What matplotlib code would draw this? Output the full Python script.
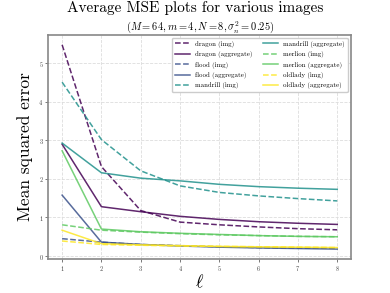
import numpy as np
import matplotlib
matplotlib.use("Agg")
import matplotlib.pyplot as plt

plt.rcParams['font.family'] = ['cmr10', 'DejaVu Serif']
plt.rcParams['mathtext.fontset'] = 'cm'
plt.rcParams['axes.formatter.use_mathtext'] = True

ells = [1, 2, 3, 4, 5, 6, 7, 8]
images = ["dragon", "flood", "mandrill", "merlion", "oldlady"]

mse_img = {
    "dragon":   [5.48, 2.32, 1.18, 0.88, 0.81, 0.755, 0.71, 0.68],
    "flood":    [0.45, 0.36, 0.30, 0.27, 0.24, 0.22, 0.21, 0.20],
    "mandrill": [4.51, 3.02, 2.21, 1.82, 1.65, 1.56, 1.49, 1.43],
    "merlion":  [0.81, 0.67, 0.62, 0.58, 0.55, 0.53, 0.51, 0.50],
    "oldlady":  [0.39, 0.30, 0.28, 0.26, 0.25, 0.24, 0.23, 0.22],
}
mse_agg = {
    "dragon":   [2.90, 1.28, 1.15, 1.03, 0.95, 0.89, 0.85, 0.82],
    "flood":    [1.58, 0.36, 0.30, 0.26, 0.23, 0.21, 0.195, 0.18],
    "mandrill": [2.93, 2.16, 2.02, 1.95, 1.86, 1.80, 1.76, 1.73],
    "merlion":  [2.73, 0.70, 0.63, 0.59, 0.56, 0.53, 0.51, 0.50],
    "oldlady":  [0.67, 0.32, 0.29, 0.27, 0.25, 0.24, 0.23, 0.22],
}

colors = plt.cm.viridis(np.linspace(0, 1, len(images)))

fig, ax = plt.subplots(figsize=(3.9, 2.93), dpi=100)
for name, c in zip(images, colors):
    ax.plot(ells, mse_img[name], '--', color=c, lw=1.1, alpha=0.85, label=f"{name} (img)")
    ax.plot(ells, mse_agg[name], '-', color=c, lw=1.1, alpha=0.85, label=f"{name} (aggregate)")

ax.grid(True, ls='--', color='#dddddd', lw=0.6)
for s in ax.spines.values():
    s.set_color('#888888')
    s.set_linewidth(1.2)
ax.tick_params(labelsize=4.5, length=2, width=0.5, pad=1.5, colors='#444444')
ax.set_xticks(ells)

ax.set_xlabel(r"$\ell$", fontsize=13, labelpad=0)
ax.set_ylabel("Mean squared error", fontsize=12.5, labelpad=4)
fig.suptitle("Average MSE plots for various images", fontsize=11, y=0.995)
ax.set_title(r"$(M=64, m=4, N=8, \sigma_n^2=0.25)$", fontsize=7.5, pad=2.5)

ax.legend(ncol=2, fontsize=4.9, loc='upper right', handlelength=2.2,
          columnspacing=1.5, labelspacing=0.5, framealpha=1, edgecolor='#cccccc')

fig.subplots_adjust(left=0.124, right=0.9, top=0.882, bottom=0.115)
plt.savefig('out.png', dpi=100)
